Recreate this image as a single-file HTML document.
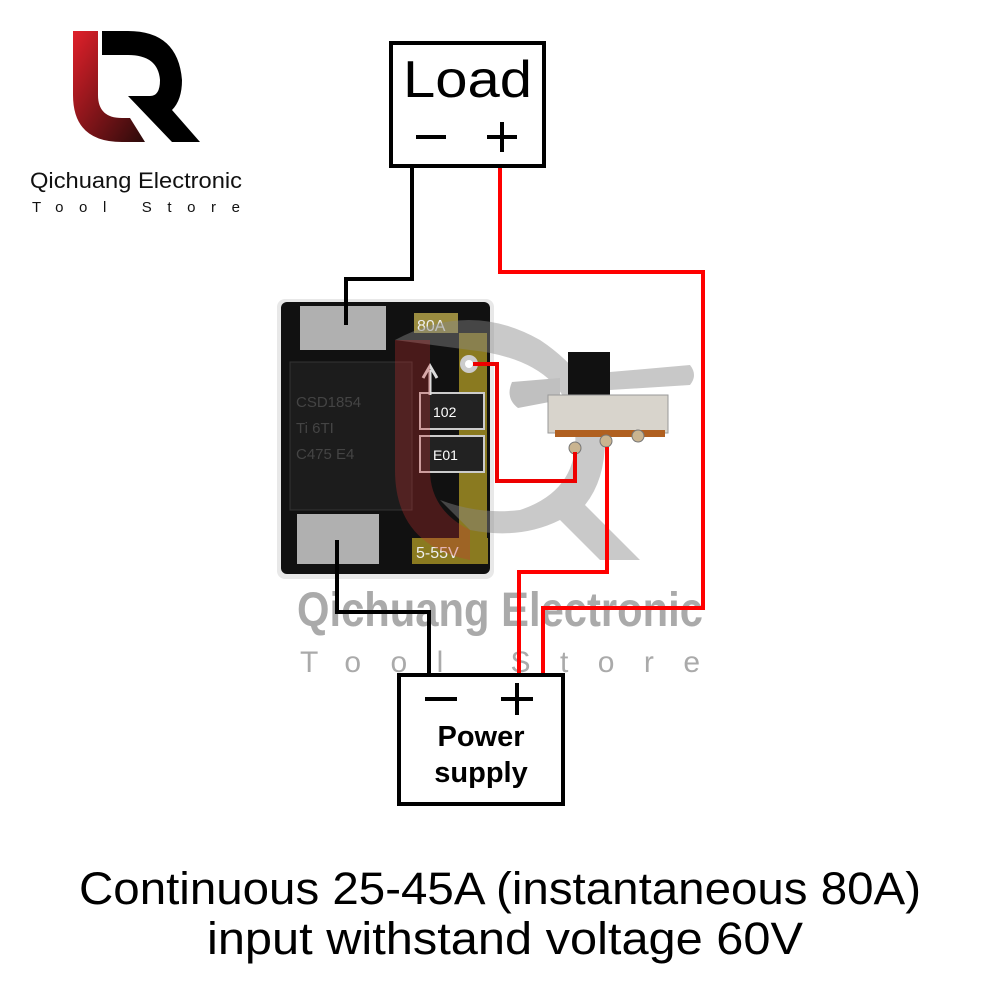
<!DOCTYPE html>
<html><head><meta charset="utf-8"><style>
html,body{margin:0;padding:0;background:#fff;}
svg{display:block;}
text{font-family:"Liberation Sans",sans-serif;}
</style></head><body>
<svg width="1000" height="1000" viewBox="0 0 1000 1000" xmlns="http://www.w3.org/2000/svg">
<defs>
<linearGradient id="rg" x1="0" y1="0" x2="1" y2="1">
<stop offset="0" stop-color="#e0202a"/><stop offset="1" stop-color="#2a0a0a"/></linearGradient>
</defs>
<!-- logo -->
<path d="M73 31 H98 V95 Q98 118 122 118 H130 L145 142 H122 Q73 142 73 95 Z" fill="url(#rg)"/>
<path d="M102 31 H128 Q178 31 182 80 Q182 100 172 110 L200 142 H172 L128 96 H150 Q160 96 160 80 Q158 55 128 55 H102 Z" fill="#000"/>
<text x="30" y="188" font-size="22" fill="#111" textLength="212" lengthAdjust="spacingAndGlyphs">Qichuang Electronic</text>
<text x="32" y="212" font-size="15" fill="#111" textLength="208">Tool Store</text>

<!-- watermark -->
<text x="297" y="626" font-size="48" font-weight="bold" fill="#aaa" textLength="406" lengthAdjust="spacingAndGlyphs">Qichuang Electronic</text>
<text x="300" y="672" font-size="30" fill="#aaa" textLength="400">Tool Store</text>

<!-- PCB -->
<rect x="277" y="299" width="217" height="280" rx="8" fill="#e8e8e8"/>
<rect x="281" y="302" width="209" height="272" rx="6" fill="#111"/>
<rect x="300" y="306" width="86" height="44" fill="#b0b0b0"/>
<rect x="290" y="362" width="122" height="148" fill="#1c1c1c" stroke="#333"/>
<rect x="297" y="514" width="82" height="50" fill="#b0b0b0"/>
<rect x="414" y="313" width="44" height="20" fill="#9a8c40"/>
<text x="417" y="331" font-size="16" fill="#eee">80A</text>
<rect x="459" y="333" width="28" height="210" fill="#8a7a20"/>
<circle cx="469" cy="364" r="9" fill="#ccc"/>
<circle cx="469" cy="364" r="4" fill="#fff"/>
<rect x="420" y="393" width="64" height="36" fill="#222" stroke="#ccc" stroke-width="2"/>
<rect x="420" y="436" width="64" height="36" fill="#222" stroke="#ccc" stroke-width="2"/>
<text x="433" y="417" font-size="14" fill="#fff">102</text>
<text x="433" y="460" font-size="14" fill="#fff">E01</text>
<text x="296" y="407" font-size="15" fill="#444">CSD1854</text>
<text x="296" y="433" font-size="15" fill="#444">Ti  6TI</text>
<text x="296" y="459" font-size="15" fill="#444">C475 E4</text>
<path d="M430 370 V395" stroke="#ddd" stroke-width="3"/>
<path d="M423 378 L430 366 L437 378" stroke="#ddd" stroke-width="3" fill="none"/>
<rect x="412" y="538" width="76" height="26" fill="#8a7a20"/>
<text x="416" y="558" font-size="16" fill="#eee">5-55V</text>

<!-- Q watermark overlay -->
<path d="M395 340 Q470 300 540 340 Q600 380 605 440 Q605 480 585 505 L640 560 H600 L560 520 Q520 540 470 530 L440 500 Q480 515 520 510 Q580 490 575 430 Q565 360 470 350 Z" fill="#888" opacity="0.45"/>
<path d="M395 340 H430 V470 Q430 510 470 530 L470 560 Q395 545 395 470 Z" fill="#c33" opacity="0.3"/>

<!-- switch -->
<path d="M512 382 L560 378 L560 400 L518 408 Q505 398 512 382 Z" fill="#c0c0c0"/>
<path d="M610 372 L690 365 Q698 375 690 385 L610 390 Z" fill="#c8c8c8"/>
<rect x="568" y="352" width="42" height="45" fill="#111"/>
<rect x="548" y="395" width="120" height="38" fill="#d8d4cc" stroke="#999"/>
<rect x="555" y="430" width="110" height="7" fill="#b06020"/>
<circle cx="575" cy="448" r="6" fill="#c9b490" stroke="#777"/>
<circle cx="606" cy="441" r="6" fill="#c9b490" stroke="#777"/>
<circle cx="638" cy="436" r="6" fill="#c9b490" stroke="#777"/>

<!-- wires -->
<g fill="none" stroke-width="4" stroke-linejoin="miter">
<path d="M412 168 V279 H346 V325" stroke="#000"/>
<path d="M337 540 V612 H429 V674" stroke="#000"/>
<path d="M500 168 V272 H703 V608 H543 V674" stroke="#f00"/>
<path d="M607 447 V572 H519 V674" stroke="#f00"/>
<path d="M473 364 H497 V481 H575 V452" stroke="#e00"/>
</g>

<!-- Load box -->
<rect x="391" y="43" width="153" height="123" fill="#fff" stroke="#000" stroke-width="4"/>
<text x="403" y="97" font-size="52" fill="#000" textLength="129" lengthAdjust="spacingAndGlyphs">Load</text>
<rect x="416" y="135" width="30" height="4" fill="#000"/>
<rect x="487" y="135" width="30" height="4" fill="#000"/>
<rect x="500" y="122" width="4" height="30" fill="#000"/>

<!-- Power box -->
<rect x="399" y="675" width="164" height="129" fill="#fff" stroke="#000" stroke-width="4"/>
<rect x="425" y="697" width="32" height="4" fill="#000"/>
<rect x="501" y="697" width="32" height="4" fill="#000"/>
<rect x="515" y="683" width="4" height="32" fill="#000"/>
<text x="481" y="746" font-size="29" font-weight="bold" text-anchor="middle" fill="#000">Power</text>
<text x="481" y="782" font-size="29" font-weight="bold" text-anchor="middle" fill="#000">supply</text>

<!-- caption -->
<text x="79" y="904" font-size="45" fill="#000" textLength="842" lengthAdjust="spacingAndGlyphs">Continuous 25-45A (instantaneous 80A)</text>
<text x="207" y="954" font-size="45" fill="#000" textLength="596" lengthAdjust="spacingAndGlyphs">input withstand voltage 60V</text>
</svg>
</body></html>
